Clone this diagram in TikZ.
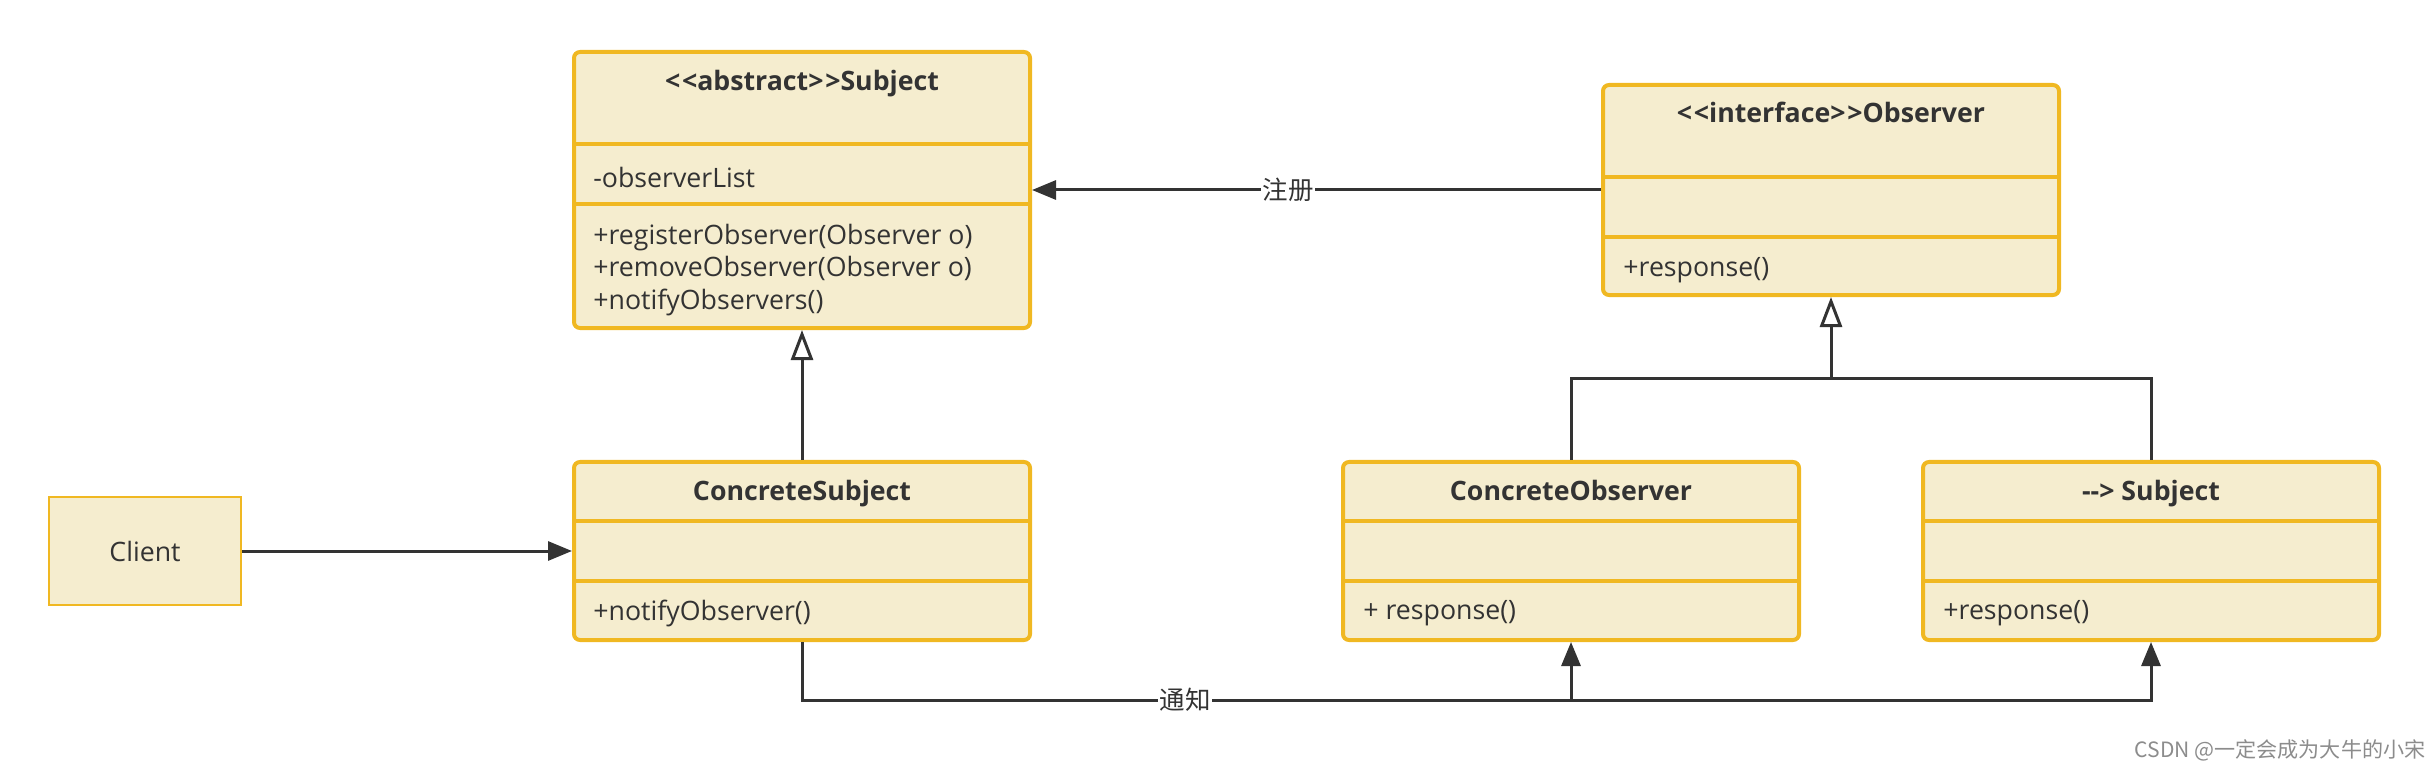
\documentclass[tikz,border=0pt]{standalone}
\usepackage{fontspec}
\setmainfont{Open Sans}
\newfontfamily\cjk{Noto Sans CJK SC}
\usetikzlibrary{arrows.meta,calc}
\definecolor{umlfill}{HTML}{F5EDCF}
\definecolor{umlborder}{HTML}{F0B822}
\definecolor{umlline}{HTML}{333333}

\begin{document}
\begin{tikzpicture}[
	x=0.2mm, y=-0.2mm,
	font=\fontsize{15.2}{18.7}\selectfont,
	classbox/.style={
		draw=umlborder,
		fill=umlfill,
		line width=0.8mm,
		rounded corners=1.2mm,
		minimum width=91.2mm,
		inner sep=0pt
	},
	clientbox/.style={draw=umlborder, fill=umlfill, line width=0.5mm,
		minimum width=38.4mm, minimum height=21.6mm, text=umlline},
	compsep/.style={draw=umlborder, line width=0.8mm},
	title/.style={font=\fontsize{15.2}{18.7}\selectfont\bfseries, text=umlline,
		text height=11pt, text depth=3.5pt},
	member/.style={anchor=west, align=left, text=umlline, inner sep=0pt},
	link/.style={draw=umlline, line width=0.6mm},
	assoc/.style={link, -{Triangle[length=4.8mm,width=3.8mm]}},
	inherit/.style={link, -{Triangle[open,length=6mm,width=4.4mm,fill=white]}},
	lbl/.style={fill=white, inner sep=1pt, text=umlline,
		font=\fontsize{14.5}{18.7}\selectfont\cjk}
	]

	\useasboundingbox (0,0) rectangle (2430,769);

	% abstract subject
	\node[classbox, minimum height=55.2mm] (subj) at (802,190) {};
	\draw[compsep] (subj.north west) ++(0,94) -- ++(460,0);
	\draw[compsep] (subj.north west) ++(0,154) -- ++(460,0);
	\node[title] (subj-name) at (802,84) {<\kern1pt<abstract>\kern1pt>Subject};
	\node[member] (subj-attr) at (593,177) {-observerList};
	\node[member] (subj-ops) at (593,270) {+registerObserver(Observer o)\\+removeObserver(Observer o)\\+notifyObservers()};

	% observer interface
	\node[classbox, minimum height=42mm] (obs) at (1831,190) {};
	\draw[compsep] (obs.north west) ++(0,94) -- ++(460,0);
	\draw[compsep] (obs.north west) ++(0,154) -- ++(460,0);
	\node[title] (obs-name) at (1831,116) {<\kern1pt<interface>\kern1pt>Observer};
	\node[member] (obs-ops) at (1623,270) {+response()};

	% concrete classes
	\node[classbox, minimum height=35.6mm] (csubj) at (802,551) {};
	\draw[compsep] (csubj.north west) ++(0,61) -- ++(460,0);
	\draw[compsep] (csubj.north west) ++(0,121) -- ++(460,0);
	\node[title] (csubj-name) at (802,494) {ConcreteSubject};
	\node[member] (csubj-ops) at (593,613) {+notifyObserver()};

	\node[classbox, minimum height=35.6mm] (cobs) at (1571,551) {};
	\draw[compsep] (cobs.north west) ++(0,61) -- ++(460,0);
	\draw[compsep] (cobs.north west) ++(0,121) -- ++(460,0);
	\node[title] (cobs-name) at (1571,494) {ConcreteObserver};
	\node[member] (cobs-ops) at (1363,613) {+ response()};

	\node[classbox, minimum height=35.6mm] (proxy) at (2151,551) {};
	\draw[compsep] (proxy.north west) ++(0,61) -- ++(460,0);
	\draw[compsep] (proxy.north west) ++(0,121) -- ++(460,0);
	\node[title] (proxy-name) at (2151,494) {-\kern0pt-> Subject};
	\node[member] (proxy-ops) at (1943,613) {+response()};

	\node[clientbox] (client) at (145,551) {Client};

	% connectors
	\draw[assoc] (obs) -- node[lbl, pos=0.55] (reg) {注册} (subj);
	\draw[assoc] (client) -- (csubj);
	\draw[inherit] (csubj) -- (subj);

	\coordinate (fork) at (1831,378);
	\draw[link] (cobs.north) |- (fork);
	\draw[link] (proxy.north) |- (fork);
	\draw[inherit] (fork) -- (obs.south);

	\coordinate (bus) at (2151,700);
	\draw[assoc] (csubj.south) |- node[lbl, pos=0.642] (ntf) {通知} (bus) -- (proxy.south);
	\draw[assoc] (cobs.south |- bus) -- (cobs.south);

	\node[text=black!45, font=\fontsize{12}{14}\selectfont\cjk] (mark) at (2280,750) {CSDN @一定会成为大牛的小宋};
\end{tikzpicture}
\end{document}
